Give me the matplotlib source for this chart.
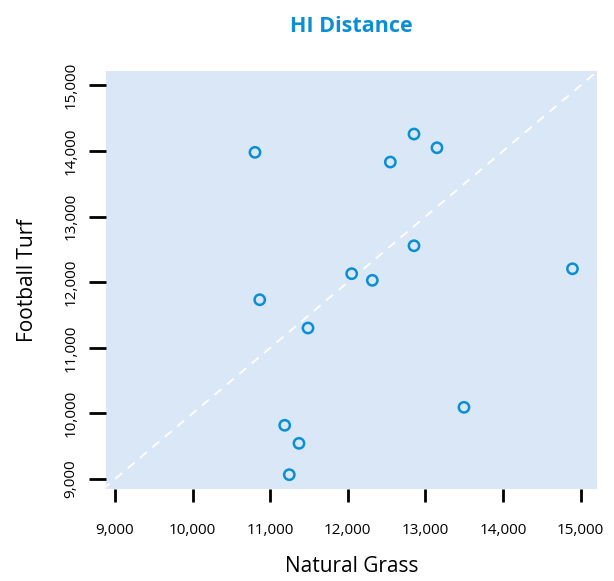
import matplotlib
matplotlib.use("Agg")
import matplotlib.pyplot as plt
from matplotlib.ticker import FuncFormatter

natural_grass = [10804, 10865, 11187, 11371, 11246, 11487, 12050, 12316, 12548, 12853, 13149, 12853, 13497, 14895]
football_turf = [13980, 11733, 9819, 9544, 9066, 11302, 12130, 12029, 13832, 14259, 14050, 12556, 10093, 12205]
ticks = [9000, 10000, 11000, 12000, 13000, 14000, 15000]
title = "HI Distance"
xlabel = "Natural Grass"
ylabel = "Football Turf"

plt.rcParams['font.family'] = ['Open Sans', 'DejaVu Sans']

fig = plt.figure(figsize=(6.14, 5.81), dpi=100)
ax = fig.add_axes([0.1726, 0.1578, 0.7992, 0.7200])
ax.set_facecolor('#DAE7F6')
xlim = (8884, 15207)
ylim = (8843, 15220)
ax.set_xlim(*xlim)
ax.set_ylim(*ylim)

ax.plot([min(xlim[0], ylim[0]), max(xlim[1], ylim[1])],
        [min(xlim[0], ylim[0]), max(xlim[1], ylim[1])],
        color='white', lw=1.3, ls=(0, (5, 4)), zorder=1)

ax.scatter(natural_grass, football_turf, s=55, facecolors='none',
           edgecolors='#0A8FD4', linewidths=1.8, zorder=3)

for sp in ax.spines.values():
    sp.set_visible(False)

fmt = FuncFormatter(lambda v, p: f"{int(v):,}")
ax.set_xticks(ticks)
ax.set_yticks(ticks)
ax.xaxis.set_major_formatter(fmt)
ax.yaxis.set_major_formatter(fmt)
ax.tick_params(axis='x', length=9, width=2, pad=15, labelsize=11, color='black')
ax.tick_params(axis='y', length=12, width=2, pad=8, labelsize=11, color='black',
               labelrotation=90)
for lab in ax.get_yticklabels():
    lab.set_va('center')

ax.set_xlabel(xlabel, fontsize=15, labelpad=13)
ax.set_ylabel(ylabel, fontsize=15, labelpad=18)
ax.set_title(title, fontsize=15.5, fontweight='bold', color='#0A8FD4', pad=28)

fig.savefig("out.png", dpi=100)
